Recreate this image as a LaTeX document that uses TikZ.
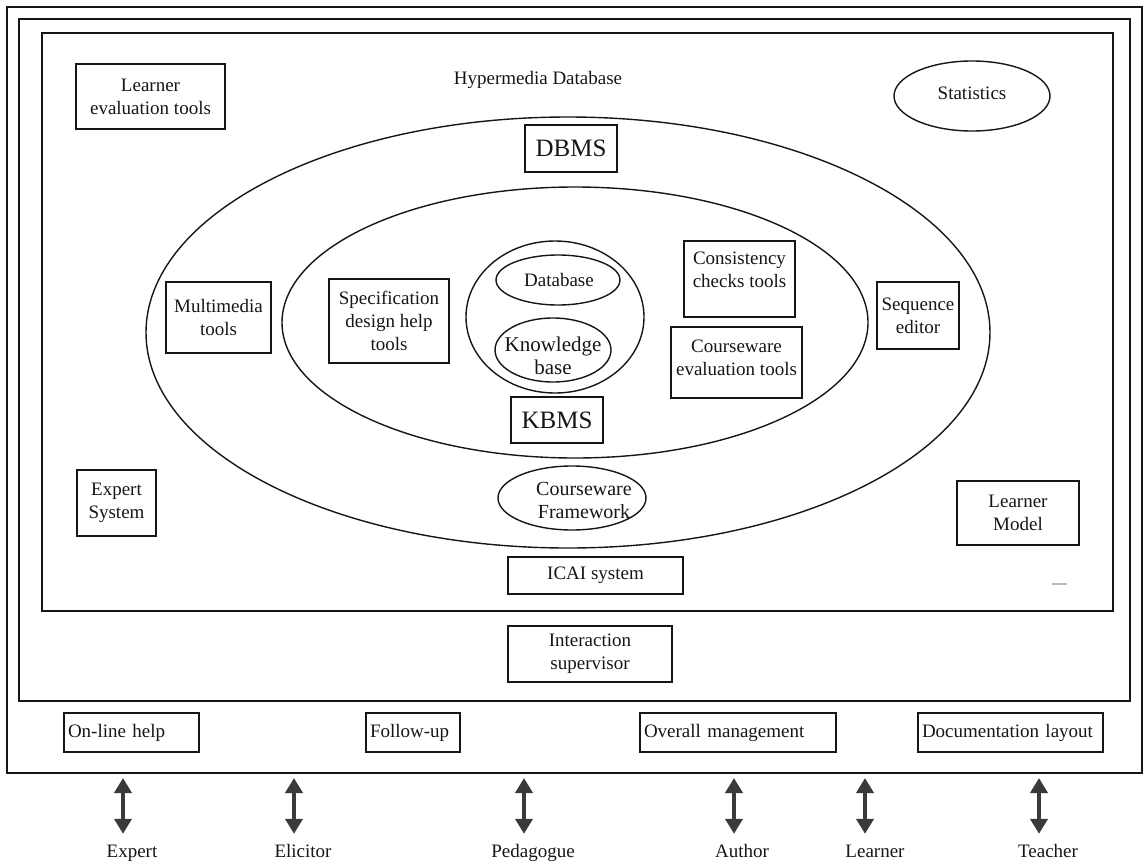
\documentclass[tikz,border=0pt]{standalone}
\usepackage{fontspec}
\setmainfont{Liberation Serif}
\usetikzlibrary{shapes.geometric,arrows.meta}
\definecolor{ink}{HTML}{161616}
\definecolor{arrowgray}{HTML}{3A3A3A}

\begin{document}
\begin{tikzpicture}[x=1pt,y=-1pt,
  every node/.style={font=\fontsize{19}{23}\selectfont, text=ink, inner sep=0pt},
  frame/.style={draw=ink, line width=1.6pt},
  box/.style args={#1/#2}{draw=ink, line width=1.5pt, rectangle, align=center,
    minimum width=#1pt, minimum height=#2pt},
  leftbox/.style args={#1/#2}{draw=ink, line width=1.4pt, rectangle, align=left,
    inner xsep=4pt, text width=#1pt, minimum height=#2pt},
  ell/.style args={#1/#2}{draw=ink, line width=1.4pt, ellipse,
    minimum width=#1pt, minimum height=#2pt},
  bigtext/.style={font=\fontsize{25}{30}\selectfont},
  actor/.style={text height=13pt, text depth=4pt, anchor=base},
  dbl/.style={draw=arrowgray, line width=4.5pt,
    {Triangle[width=17pt,length=15pt]}-{Triangle[width=17pt,length=15pt]}},
]
\useasboundingbox (0,0) rectangle (1144,865);

% nested frames
\draw[frame] (7,7) rectangle (1142,773);
\draw[frame] (19,19) rectangle (1130,701);
\draw[frame] (42,33) rectangle (1113,611);

% containers
\node[ell=844/431] (outerell) at (568,332.5) {};
\node[ell=586/271] (innerell) at (575,322.5) {};
\node[ell=178/152] (core) at (555,317) {};

% top band
\node[box=149/65] (learnereval) at (150.5,96.5) {Learner\\evaluation tools};
\node (hyper) at (538,80) {Hypermedia Database};
\node[ell=156/70] (stats) at (972,96) {};
\node (stats-t) at (972,93) {Statistics};
\node[box=92/47, bigtext] (dbms) at (571,148.5) {DBMS};

% tool boxes
\node[box=105/71] (multimedia) at (218.5,317.5) {Multimedia\\tools};
\node[box=120/84] (spec) at (389,321) {Specification\\design help\\tools};
\node[box=111/76] (cons) at (739.5,279) {};
\node[align=center] (cons-t) at (739.5,270) {Consistency\\checks tools};
\node[box=131/71] (cweval) at (736.5,362.5) {};
\node[align=center] (cweval-t) at (736.5,358) {Courseware\\evaluation tools};
\node[box=82/67] (sequence) at (918,315.5) {Sequence\\editor};

% core contents
\node[ell=124/50] (database) at (558,280) {};
\node (database-t) at (559,280) {Database};
\node[ell=116/64] (kb) at (553,350) {};
\node[align=center, font=\fontsize{21}{23}\selectfont] (kb-t) at (553,356) {Knowledge\\base};
\node[box=92/46, bigtext] (kbms) at (557,420) {KBMS};
\node[ell=148/64] (framework) at (572,498) {};
\node[align=center, font=\fontsize{20}{23}\selectfont] (framework-t) at (584,500) {Courseware\\Framework};

% lower band
\node[box=79/66] (expertsys) at (116.5,503) {Expert\\System};
\node[box=122/64] (learnermodel) at (1018,513) {Learner\\Model};
\node[box=175/37] (icai) at (595.5,575.5) {ICAI system};
\draw[gray!55, line width=1.2pt] (1052,584) -- (1067,584);
\node[box=164/56] (interaction) at (590,654) {Interaction\\supervisor};

% service boxes
\node[leftbox=127/39] (online) at (131.5,732.5) {On-line help};
\node[leftbox=86/39] (followup) at (413,732.5) {Follow-up};
\node[leftbox=188/39] (overall) at (738,732.5) {Overall management};
\node[leftbox=177/39] (doclayout) at (1010.5,732.5) {Documentation layout};

% actors
\node[actor] (expert) at (132,857) {Expert};
\node[actor] (elicitor) at (303,857) {Elicitor};
\node[actor] (pedagogue) at (533,857) {Pedagogue};
\node[actor] (author) at (742,857) {Author};
\node[actor] (learner) at (875,857) {Learner};
\node[actor] (teacher) at (1048,857) {Teacher};

\coordinate (a1) at (123,778);
\coordinate (a2) at (294,778);
\coordinate (a3) at (524,778);
\coordinate (a4) at (734,778);
\coordinate (a5) at (865,778);
\coordinate (a6) at (1039,778);

\draw[dbl, shorten >=10pt] (a1) -- (a1 |- expert.north);
\draw[dbl, shorten >=10pt] (a2) -- (a2 |- elicitor.north);
\draw[dbl, shorten >=10pt] (a3) -- (a3 |- pedagogue.north);
\draw[dbl, shorten >=10pt] (a4) -- (a4 |- author.north);
\draw[dbl, shorten >=10pt] (a5) -- (a5 |- learner.north);
\draw[dbl, shorten >=10pt] (a6) -- (a6 |- teacher.north);
\end{tikzpicture}
\end{document}
